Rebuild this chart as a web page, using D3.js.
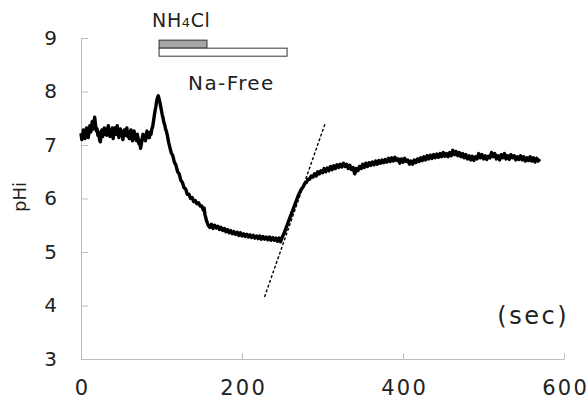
<!DOCTYPE html>
<html>
<head>
<meta charset="utf-8">
<script src="https://cdn.jsdelivr.net/npm/d3@7"></script>
<style>
body { margin: 0; background: #fff; }
text { font-family: "DejaVu Sans", sans-serif; fill: #222; }
.axis path, .axis line { stroke: #bdbdbd; }
</style>
</head>
<body>
<svg width="588" height="403"></svg>
<script>
// pHi trace, [time (sec), pHi]
var trace = [
  [0,7.22],[1,7.10],[2,7.16],[3,7.28],[4,7.20],[5,7.12],[6,7.24],[7,7.32],[8,7.22],[9,7.14],
  [10,7.26],[11,7.36],[12,7.24],[13,7.30],[14,7.44],[15,7.30],[16,7.40],[17,7.52],[18,7.38],[19,7.26],
  [20,7.30],[21,7.18],[22,7.24],[23,7.10],[24,7.06],[25,7.20],[26,7.28],[27,7.16],[28,7.22],[29,7.32],
  [30,7.20],[31,7.28],[32,7.18],[33,7.30],[34,7.36],[35,7.22],[36,7.16],[37,7.28],[38,7.22],[39,7.32],
  [40,7.12],[41,7.24],[42,7.32],[43,7.20],[44,7.26],[45,7.36],[46,7.22],[47,7.14],[48,7.24],[49,7.30],
  [50,7.18],[51,7.26],[52,7.10],[53,7.20],[54,7.28],[55,7.18],[56,7.24],[57,7.32],[58,7.16],[59,7.24],
  [60,7.12],[61,7.22],[62,7.28],[63,7.14],[64,7.08],[65,7.20],[66,7.26],[67,7.12],[68,7.18],[69,7.08],
  [70,7.20],[71,7.12],[72,7.02],[73,7.08],[74,6.94],[75,7.02],[76,7.12],[77,7.20],[78,7.10],[79,7.16],
  [80,7.08],[81,7.20],[82,7.26],[83,7.14],[84,7.20],[85,7.14],[86,7.24],[87,7.20],[88,7.30],[89,7.34],
  [90,7.44],[91,7.54],[92,7.64],[93,7.72],[94,7.82],[95,7.88],[96,7.92],[97,7.86],[98,7.80],[99,7.72],
  [100,7.64],[101,7.56],[102,7.50],[103,7.42],[104,7.38],[105,7.30],[106,7.26],[107,7.20],[108,7.12],[109,7.04],
  [110,6.98],[112,6.86],[114,6.80],[116,6.68],[118,6.62],[120,6.50],[122,6.46],[124,6.34],[126,6.30],[128,6.20],
  [130,6.18],[132,6.08],[134,6.08],[136,6.00],[138,6.02],[140,5.94],[142,5.96],[144,5.90],[146,5.92],[148,5.86],
  [150,5.86],[152,5.78],[153,5.82],[154,5.70],[156,5.58],[158,5.50],[160,5.46],[162,5.52],[164,5.44],[166,5.50],
  [168,5.45],[170,5.48],[172,5.42],[174,5.46],[176,5.40],[178,5.44],[180,5.38],[182,5.42],[184,5.36],[186,5.40],
  [188,5.34],[190,5.38],[192,5.33],[194,5.37],[196,5.31],[198,5.36],[200,5.30],[202,5.34],[204,5.29],[206,5.33],
  [208,5.28],[210,5.32],[212,5.27],[214,5.31],[216,5.26],[218,5.30],[220,5.25],[222,5.30],[224,5.24],[226,5.29],
  [228,5.24],[230,5.28],[232,5.23],[234,5.28],[236,5.22],[238,5.27],[240,5.22],[242,5.26],[244,5.20],[246,5.26],
  [248,5.19],[250,5.28],[252,5.34],[254,5.42],[256,5.50],[258,5.58],[260,5.66],[262,5.74],[264,5.82],[266,5.90],
  [268,5.98],[270,6.06],[272,6.12],[274,6.18],[276,6.22],[278,6.28],[280,6.30],[282,6.36],[284,6.36],[286,6.42],
  [288,6.40],[290,6.46],[292,6.42],[294,6.50],[296,6.46],[298,6.52],[300,6.48],[302,6.56],[304,6.50],[306,6.57],
  [308,6.52],[310,6.60],[312,6.54],[314,6.61],[316,6.56],[318,6.63],[320,6.58],[322,6.64],[324,6.59],[326,6.66],
  [328,6.60],[330,6.64],[332,6.56],[334,6.62],[336,6.54],[338,6.58],[340,6.46],[342,6.56],[344,6.52],[346,6.60],
  [348,6.56],[350,6.64],[352,6.58],[354,6.66],[356,6.60],[358,6.67],[360,6.62],[362,6.68],[364,6.63],[366,6.70],
  [368,6.64],[370,6.71],[372,6.66],[374,6.72],[376,6.67],[378,6.73],[380,6.68],[382,6.75],[384,6.69],[386,6.76],
  [388,6.70],[390,6.77],[392,6.71],[394,6.74],[396,6.66],[398,6.74],[400,6.68],[402,6.75],[404,6.69],[406,6.72],
  [408,6.64],[410,6.70],[412,6.64],[414,6.72],[416,6.67],[418,6.74],[420,6.69],[422,6.76],[424,6.71],[426,6.78],
  [428,6.72],[430,6.80],[432,6.74],[434,6.81],[436,6.75],[438,6.82],[440,6.76],[442,6.83],[444,6.77],[446,6.84],
  [448,6.78],[450,6.86],[452,6.79],[454,6.84],[456,6.78],[458,6.86],[460,6.80],[462,6.90],[464,6.82],[466,6.88],
  [468,6.80],[470,6.86],[472,6.78],[474,6.84],[476,6.76],[478,6.82],[480,6.74],[482,6.80],[484,6.72],[486,6.79],
  [488,6.71],[490,6.78],[492,6.74],[494,6.84],[496,6.76],[498,6.82],[500,6.74],[502,6.80],[504,6.73],[506,6.79],
  [508,6.76],[510,6.86],[512,6.78],[514,6.84],[516,6.74],[518,6.80],[520,6.72],[522,6.82],[524,6.76],[526,6.84],
  [528,6.74],[530,6.80],[532,6.73],[534,6.82],[536,6.76],[538,6.80],[540,6.72],[542,6.78],[544,6.73],[546,6.80],
  [548,6.72],[550,6.78],[552,6.70],[554,6.76],[556,6.71],[558,6.78],[560,6.70],[562,6.76],[564,6.68],[566,6.75],
  [568,6.70],[570,6.74]
];

// tangent fitted on the recovery phase
var slopeLine = [[228,4.16],[303,7.39]];

// perfusion bars: [start, end, low, high]
var barNames = ["NH4Cl", "Na-Free"];
var bars = [[97,156.5,8.81,8.96],[97,256,8.66,8.81]];
var barFills = ["#a6a6a6", "#ffffff"];

var xTicks = [0,200,400,600];
var yTicks = [3,4,5,6,7,8,9];

var svg = d3.select("svg"),
margin = {top: 38, right: 24, bottom: 44, left: 81},
width = svg.attr("width") - margin.left - margin.right,
height = svg.attr("height") - margin.top - margin.bottom;

var g = svg.append("g")
           .attr("transform", "translate(" + margin.left + "," + margin.top + ")");

var x = d3.scaleLinear().domain([0,600]).range([0, width]);
var y = d3.scaleLinear().domain([3,9]).range([height, 0]);

// x axis
var xa = g.append("g")
 .attr("class", "axis axis--x")
 .attr("transform", "translate(0," + height + ")")
 .call(d3.axisBottom(x).tickValues(xTicks).tickFormat(d3.format("d"))
         .tickSizeInner(-6).tickSizeOuter(0).tickPadding(21));
xa.selectAll("text")
  .style("font-size", "21px")
  .style("letter-spacing", "2.2px")
  .attr("dx", "1.1px");

// y axis
var ya = g.append("g")
 .attr("class", "axis axis--y")
 .call(d3.axisLeft(y).tickValues(yTicks).tickFormat(d3.format("d"))
         .tickSizeInner(-7).tickSizeOuter(0).tickPadding(24));
ya.selectAll("text").style("font-size", "20px");

svg.selectAll(".axis text").attr("fill", "#222");

g.append("text")
 .attr("transform", "translate(" + (26 - margin.left) + "," + (197 - margin.top) + ") rotate(-90)")
 .attr("text-anchor", "middle")
 .style("font-size", "18px")
 .text("pHi");

g.append("text")
 .attr("x", width + 5)
 .attr("y", y(3.65))
 .attr("text-anchor", "end")
 .style("font-size", "24px")
 .style("letter-spacing", "2.5px")
 .text("(sec)");

// perfusion bars
g.selectAll(".bar")
 .data(bars)
 .enter().append("rect")
 .attr("class", "bar")
 .attr("x", function(d) { return x(d[0]); })
 .attr("y", function(d) { return y(d[3]); })
 .attr("width", function(d) { return x(d[1]) - x(d[0]); })
 .attr("height", function(d) { return y(d[2]) - y(d[3]); })
 .attr("fill", function(d, i) { return barFills[i]; })
 .attr("stroke", "#333")
 .attr("stroke-width", 1);

var nh = g.append("text")
 .attr("x", x(bars[0][0]) - 7)
 .attr("y", -11)
 .style("font-size", "19px")
 .style("letter-spacing", "0.6px");
nh.append("tspan").text("NH");
nh.append("tspan").style("font-size", "13px").text("4");
nh.append("tspan").text("Cl");

g.append("text")
 .attr("x", x(bars[1][0]) + 29)
 .attr("y", 52)
 .style("font-size", "20px")
 .style("letter-spacing", "1.4px")
 .text(barNames[1]);

// trace
var line = d3.line()
             .x(function(d) { return x(d[0]); })
             .y(function(d) { return y(d[1]); });

g.append("path")
 .datum(trace)
 .attr("fill", "none")
 .attr("stroke", "#000")
 .attr("stroke-width", 3.4)
 .attr("stroke-linejoin", "round")
 .attr("d", line);

g.append("path")
 .datum(slopeLine)
 .attr("fill", "none")
 .attr("stroke", "#000")
 .attr("stroke-width", 1.4)
 .attr("stroke-dasharray", "3,2")
 .attr("d", line);
</script>
</body>
</html>
